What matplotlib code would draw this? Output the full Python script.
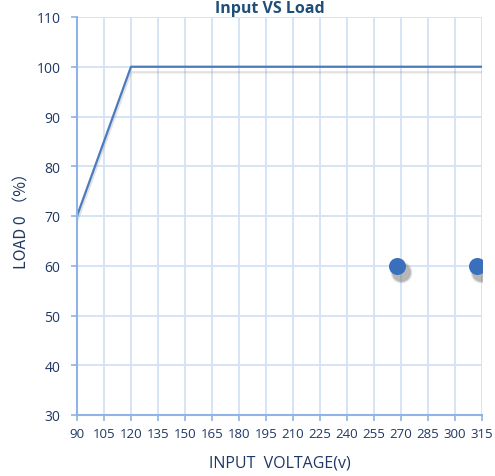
import matplotlib.pyplot as plt
import matplotlib.patheffects as pe
from matplotlib.transforms import offset_copy

plt.rcParams['font.family'] = ['Open Sans', 'DejaVu Sans']

# line: input voltage vs load
volt = [90, 120, 315]
load = [70, 100, 100]
# marker points
pt_volt = [268, 312]
pt_load = [60, 60]

xticks = list(range(90, 316, 15))
yticks = list(range(30, 111, 10))

txt = '#1f3864'
grid_c = '#d3e2f4'
spine_c = '#8fb4e3'
line_c = '#4a7bbf'

fig = plt.figure(figsize=(4.95, 4.77), dpi=100)
ax = fig.add_axes([77 / 495, 1 - 416 / 477, 405 / 495, 398 / 477])

ax.plot(volt, load, color=line_c, lw=1.6,
        path_effects=[pe.SimpleLineShadow(offset=(0, -4), shadow_color='#888888', alpha=0.25), pe.Normal()])
# soft shadow under markers
shadow_tr = offset_copy(ax.transData, fig=fig, x=4, y=-6, units='dots')
for k, a in [(6, 0.12), (4, 0.18), (2.5, 0.25)]:
    ax.scatter(pt_volt, pt_load, s=130 + k * 20, color='#666666', alpha=a, zorder=4,
               lw=0, transform=shadow_tr)
ax.scatter(pt_volt, pt_load, s=150, color='#3a70bb', zorder=5, lw=0)

ax.set_xlim(90, 315)
ax.set_ylim(30, 110)
ax.set_xticks(xticks)
ax.set_yticks(yticks)
ax.grid(True, color=grid_c, lw=1.3)
ax.set_axisbelow(True)
for s in ['top', 'right']:
    ax.spines[s].set_visible(False)
for s in ['left', 'bottom']:
    ax.spines[s].set_color(spine_c)
    ax.spines[s].set_linewidth(1.5)
ax.tick_params(colors=txt, labelsize=10, length=4, width=1.2)
ax.tick_params(axis='x', color=spine_c, pad=5)
ax.tick_params(axis='y', color=spine_c, pad=8)
for lab in ax.get_xticklabels():
    lab.set_fontsize(9.5)

ax.set_xlabel('INPUT  VOLTAGE(v)', color=txt, fontsize=11.5, labelpad=10)
ax.set_ylabel('LOAD 0 （%）', color=txt, fontsize=11.5, labelpad=4,
              family=['Noto Sans CJK SC', 'DejaVu Sans'])
fig.text(270 / 495, 1 - 1 / 477, 'Input VS Load', ha='center', va='top',
         color='#1f4e79', fontsize=11.5, fontweight='bold')

fig.savefig('out.png', dpi=100)
